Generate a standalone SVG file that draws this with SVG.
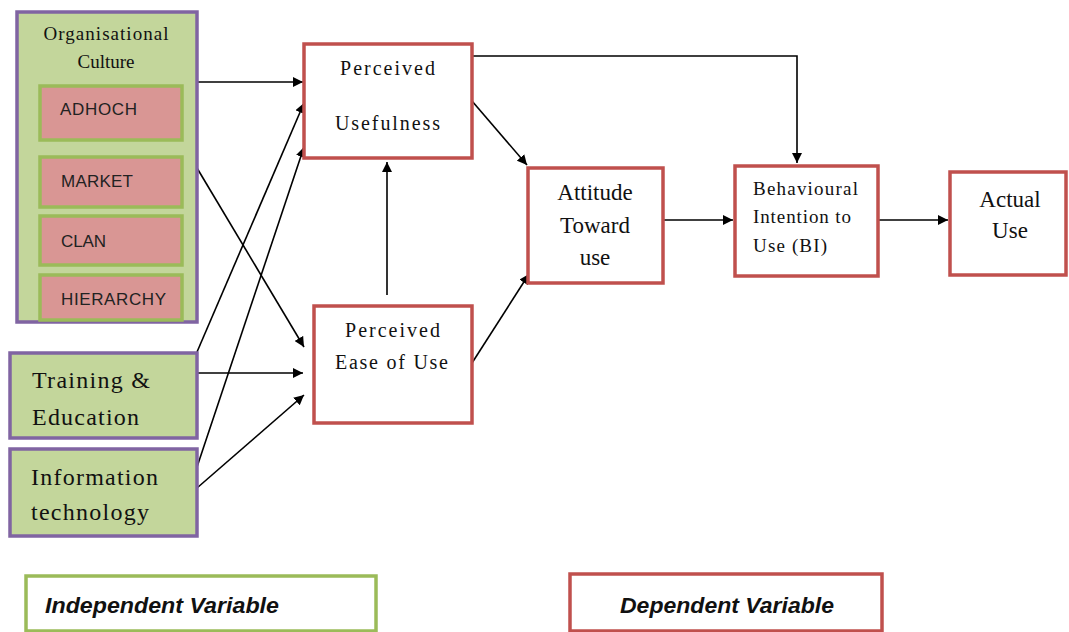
<svg xmlns="http://www.w3.org/2000/svg" width="1069" height="632" viewBox="0 0 1069 632">
<style>
.indep{fill:#c3d69b;stroke:#8064a2;stroke-width:3.5}
.sub{fill:#d99694;stroke:#9bbb59;stroke-width:3.5}
.dep{fill:#fff;stroke:#c0504d;stroke-width:3.5}
.serif{font-family:"Liberation Serif","Times New Roman",serif;fill:#111}
.sans{font-family:"Liberation Sans",Arial,sans-serif;fill:#222;font-size:17px}
.leg{font-family:"Liberation Sans",Arial,sans-serif;font-style:italic;font-weight:bold;font-size:22px;fill:#111}
.conn line,.conn polyline{stroke:#000;stroke-width:1.6;fill:none;marker-end:url(#ah)}
</style>
<defs>
<marker id="ah" viewBox="0 0 10 10" refX="10" refY="5" markerWidth="10" markerHeight="10" markerUnits="userSpaceOnUse" orient="auto">
<path d="M0,0 L10,5 L0,10 z" fill="#000"/>
</marker>
</defs>
<rect width="1069" height="632" fill="#fff"/>

<g class="conn">
<line x1="197" y1="82" x2="303" y2="82"/>
<line x1="197" y1="168" x2="304" y2="347"/>
<line x1="197" y1="352" x2="304" y2="103"/>
<line x1="197" y1="467" x2="304" y2="147"/>
<line x1="197" y1="373" x2="303" y2="373"/>
<line x1="197" y1="488" x2="304" y2="395"/>
<line x1="387" y1="295" x2="387" y2="162"/>
<line x1="472" y1="101" x2="527" y2="165"/>
<line x1="472" y1="363" x2="529" y2="274"/>
<polyline points="472,56 797,56 797,163"/>
<line x1="663" y1="220" x2="733" y2="220"/>
<line x1="878" y1="220" x2="948" y2="220"/>
</g>

<g id="org-culture">
<rect class="indep" x="17" y="12" width="180" height="310"/>
<text class="serif" font-size="19" x="106" y="40" text-anchor="middle" textLength="125">Organisational</text>
<text class="serif" font-size="19" x="106" y="68" text-anchor="middle">Culture</text>
</g>
<g id="adhoch">
<rect class="sub" x="40" y="86" width="142" height="54"/>
<text class="sans" x="60" y="115" textLength="77">ADHOCH</text>
</g>
<g id="market">
<rect class="sub" x="40" y="157" width="142" height="50"/>
<text class="sans" x="61" y="187" textLength="72">MARKET</text>
</g>
<g id="clan">
<rect class="sub" x="40" y="216" width="142" height="49"/>
<text class="sans" x="61" y="247" textLength="45">CLAN</text>
</g>
<g id="hierarchy">
<rect class="sub" x="40" y="275" width="142" height="45"/>
<text class="sans" x="61" y="305" textLength="105">HIERARCHY</text>
</g>

<g id="training">
<rect class="indep" x="10" y="353" width="187" height="85"/>
<text class="serif" font-size="24" x="32" y="388" textLength="118">Training &amp;</text>
<text class="serif" font-size="24" x="32" y="425" textLength="107">Education</text>
</g>
<g id="infotech">
<rect class="indep" x="10" y="449" width="187" height="87"/>
<text class="serif" font-size="24" x="31" y="485" textLength="127">Information</text>
<text class="serif" font-size="24" x="31" y="520" textLength="118">technology</text>
</g>

<g id="pu">
<rect class="dep" x="304" y="44" width="168" height="114"/>
<text class="serif" font-size="20" x="340" y="75" textLength="95">Perceived</text>
<text class="serif" font-size="20" x="335" y="130" textLength="105">Usefulness</text>
</g>
<g id="peou">
<rect class="dep" x="314" y="306" width="158" height="117"/>
<text class="serif" font-size="20" x="345" y="337" textLength="95">Perceived</text>
<text class="serif" font-size="20" x="335" y="369" textLength="113">Ease of Use</text>
</g>
<g id="attitude">
<rect class="dep" x="528" y="168" width="135" height="115"/>
<text class="serif" font-size="23" x="595" y="200" text-anchor="middle">Attitude</text>
<text class="serif" font-size="23" x="595" y="233" text-anchor="middle">Toward</text>
<text class="serif" font-size="23" x="595" y="265" text-anchor="middle">use</text>
</g>
<g id="bi">
<rect class="dep" x="735" y="166" width="143" height="110"/>
<text class="serif" font-size="19" x="753" y="195" textLength="105">Behavioural</text>
<text class="serif" font-size="19" x="753" y="223" textLength="98">Intention to</text>
<text class="serif" font-size="19" x="753" y="252" textLength="74">Use (BI)</text>
</g>
<g id="actual">
<rect class="dep" x="950" y="172" width="116" height="103"/>
<text class="serif" font-size="23" x="1010" y="207" text-anchor="middle">Actual</text>
<text class="serif" font-size="23" x="1010" y="238" text-anchor="middle">Use</text>
</g>

<g id="legend-independent">
<rect x="26" y="576" width="350" height="55" fill="#fff" stroke="#9bbb59" stroke-width="3.5"/>
<text class="leg" x="45" y="613" textLength="234" lengthAdjust="spacingAndGlyphs">Independent Variable</text>
</g>
<g id="legend-dependent">
<rect x="570" y="574" width="312" height="57" fill="#fff" stroke="#c0504d" stroke-width="3.5"/>
<text class="leg" x="620" y="613" textLength="214" lengthAdjust="spacingAndGlyphs">Dependent Variable</text>
</g>
</svg>
